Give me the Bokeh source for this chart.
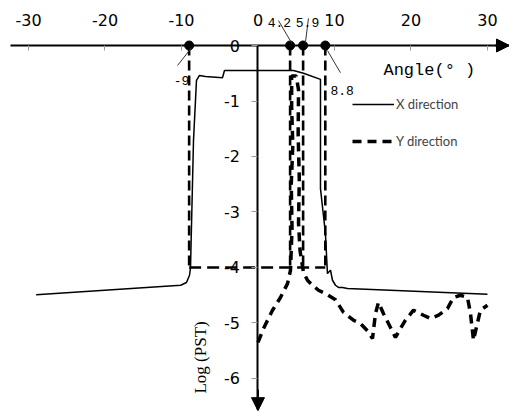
import math
from bokeh.plotting import figure
from bokeh.models import (LinearAxis, FixedTicker, Range1d, Arrow, NormalHead,
                          Legend, LegendItem, CustomJSTickFormatter)
from bokeh.core.properties import value
from bokeh.embed import file_html
from bokeh.resources import INLINE

# ---- data ----
x_ticks = [-30, -20, -10, 0, 10, 20, 30]
y_ticks = [-6, -5, -4, -3, -2, -1, 0]

x_dir_x = [-29.0, -10.1, -9.35, -8.95, -8.82, -8.43, -8.04, -7.65, -6.86, -4.64,
           -4.38, 0.0, 4.64, 5.95, 8.17, 8.17, 8.82, 9.08, 9.48, 9.74, 10.13,
           10.52, 11.05, 11.7, 30.0]
x_dir_y = [-4.49, -4.32, -4.27, -4.14, -4.0, -1.71, -0.63, -0.54, -0.56, -0.58,
           -0.45, -0.45, -0.45, -0.5, -0.61, -2.58, -3.39, -4.11, -4.05, -4.23,
           -4.32, -4.36, -4.36, -4.38, -4.48]

y_dir_x = [0.0, 0.72, 1.9, 2.94, 3.86, 4.25, 4.45, 4.35, 4.55, 4.4, 4.4, 5.0,
           5.3, 5.25, 5.4, 5.3, 5.5, 5.95, 6.47, 7.12, 7.91, 9.08, 10.13, 11.18,
           12.48, 13.4, 14.31, 14.97, 15.36, 15.75, 16.4, 17.32, 17.97, 18.63,
           19.28, 20.33, 21.63, 22.55, 23.6, 24.77, 25.56, 26.47, 27.39, 27.78,
           28.17, 28.69, 29.08, 30.0]
y_dir_y = [-5.35, -5.1, -4.77, -4.54, -4.29, -4.05, -3.3, -2.5, -1.8, -1.1,
           -0.55, -0.55, -0.8, -1.6, -2.4, -3.2, -3.7, -4.09, -4.23, -4.32,
           -4.41, -4.49, -4.58, -4.81, -4.95, -5.01, -5.14, -5.28, -4.83, -4.63,
           -4.83, -5.08, -5.26, -5.1, -4.95, -4.77, -4.86, -4.92, -4.86, -4.74,
           -4.54, -4.5, -4.54, -4.83, -5.31, -5.0, -4.77, -4.68]

marks = [-9, 4.2, 5.9, 8.8]
mark_labels = ["-9", "4.2", "5.9", "8.8"]
threshold = -4

# ---- figure ----
X0, X1 = -33.66, 32.88
Y0, Y1 = -6.613, 0.811
p = figure(width=509, height=412, x_range=Range1d(X0, X1), y_range=Range1d(Y0, Y1),
           x_axis_location=None, y_axis_location=None, toolbar_location=None,
           output_backend="svg", min_border=0, outline_line_color=None)
p.grid.visible = False

tick_font = "DejaVu Sans"
fmt = CustomJSTickFormatter(code="return String(tick);")
xaxis = LinearAxis(fixed_location=0, ticker=FixedTicker(ticks=x_ticks), formatter=fmt,
                   bounds=(-32.35, X1), axis_line_width=2,
                   major_tick_in=5, major_tick_out=0, minor_tick_line_color=None,
                   major_tick_line_color="#999999",
                   major_label_standoff=20, major_label_text_font=tick_font,
                   major_label_text_font_size="16px", major_label_text_color="black")
p.add_layout(xaxis, "above")
yaxis = LinearAxis(fixed_location=0, ticker=FixedTicker(ticks=y_ticks), formatter=fmt,
                   bounds=(-6.55, 0), axis_line_width=2,
                   major_tick_in=0, major_tick_out=6, minor_tick_line_color=None,
                   major_tick_line_color="#999999",
                   major_label_standoff=12, major_label_text_font=tick_font,
                   major_label_text_font_size="16px", major_label_text_color="black")
p.add_layout(yaxis, "left")

# axis arrows
p.add_layout(Arrow(end=NormalHead(size=13, fill_color="black", line_color="black"),
                   x_start=31.0, y_start=0, x_end=X1, y_end=0, line_width=2))
p.add_layout(Arrow(end=NormalHead(size=13, fill_color="black", line_color="black"),
                   x_start=0, y_start=-6.2, x_end=0, y_end=-6.58, line_width=2))

# dashed boundary lines
p.segment(x0=marks, y0=[0] * len(marks), x1=marks, y1=[threshold] * len(marks),
          line_color="black", line_width=2.6, line_dash="10 5")
p.segment(x0=[min(marks)], y0=[threshold], x1=[max(marks)], y1=[threshold],
          line_color="black", line_width=2.4, line_dash="12 6")

# curves
rx = p.line(x_dir_x, x_dir_y, line_color="black", line_width=1.5)
ry = p.line(y_dir_x, y_dir_y, line_color="black", line_width=3.5, line_dash="9 6")

# dots
p.scatter(marks, [0] * len(marks), size=9, color="black")

# leader lines + labels for marks
lbl_dx = [-1.0, -1.4, 0.57, 0.68]
lbl_dy = [-0.63, 0.41, 0.41, -0.81]
lead_x0 = [-1.52, -1.52, 0.7, 0.28]
lead_y0 = [-0.36, 0.45, 0.49, -0.09]
lead_x1 = [0.31, 0.18, 0.3, 1.98]
lead_y1 = [-0.04, 0.05, 0.05, -0.49]
p.segment(x0=[m + d for m, d in zip(marks, lead_x0)], y0=lead_y0,
          x1=[m + d for m, d in zip(marks, lead_x1)], y1=lead_y1,
          line_color="#333333", line_width=1)
p.text(x=[m + d for m, d in zip(marks[:3], lbl_dx[:3])], y=lbl_dy[:3], text=mark_labels[:3],
       text_font=value("Liberation Mono"), text_font_size="13px",
       text_align="center", text_baseline="middle", text_color="black")
p.text(x=[marks[3] + lbl_dx[3]], y=[lbl_dy[3]], text=[mark_labels[3]],
       text_font=value("Liberation Mono"), text_font_size="13px",
       text_align="left", text_baseline="middle", text_color="black")

# axis titles
p.text(x=[16.4], y=[-0.45], text=["Angle(°  )"], text_font=value("Liberation Mono"),
       text_font_size="17px", text_align="left", text_baseline="middle", text_color="black")
p.text(x=[-7.5], y=[-5.62], text=["Log (PST)"], angle=math.pi / 2,
       text_font=value("Liberation Serif"), text_font_size="17px",
       text_align="center", text_baseline="middle", text_color="black")

legend = Legend(items=[LegendItem(label="X direction", renderers=[rx]),
                       LegendItem(label="Y direction", renderers=[ry])],
                location=(352, 263), orientation="vertical",
                glyph_width=42, glyph_height=14, label_height=14, spacing=21,
                padding=0, margin=0, label_standoff=2,
                border_line_color=None, background_fill_alpha=0,
                label_text_font="Lato", label_text_font_size="13px",
                label_text_baseline="top")
p.add_layout(legend, "center")

open("out.html", "w").write(file_html(p, INLINE))
